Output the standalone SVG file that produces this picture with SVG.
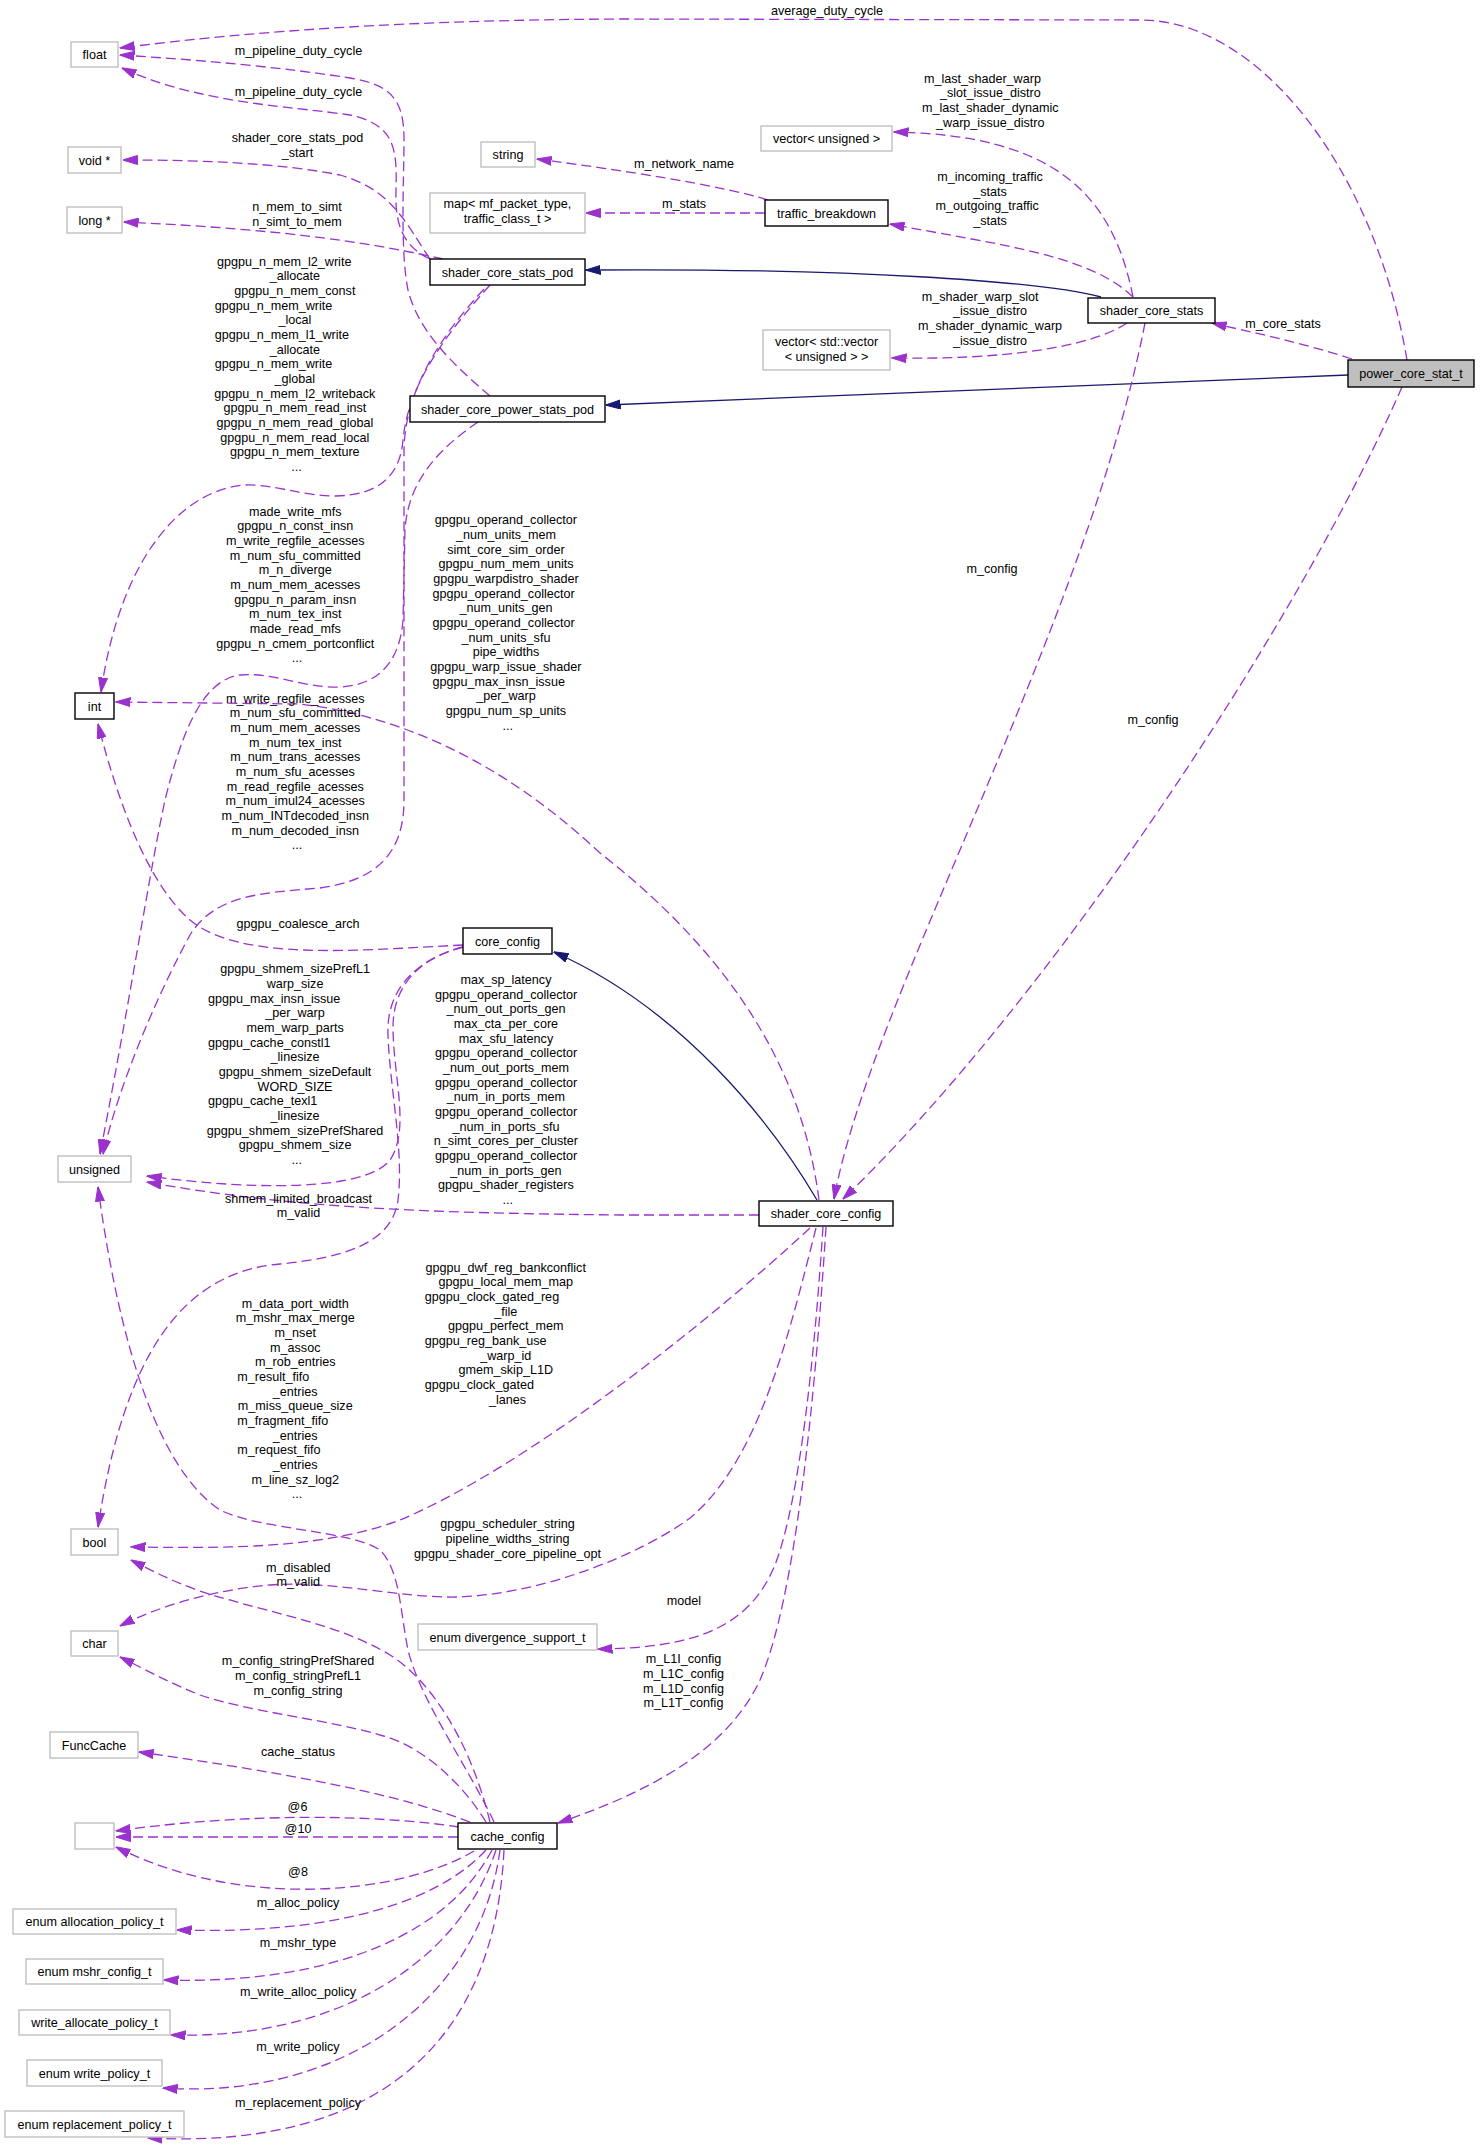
<svg xmlns="http://www.w3.org/2000/svg" width="1480" height="2153" viewBox="0 0 1480 2153">
<style>
text{font-family:"Liberation Sans",Arial,Helvetica,sans-serif;font-size:12.6px;fill:#000}
.nd rect{fill:#fff;stroke:#000;stroke-width:1.4}
.gy rect{fill:#fff;stroke:#bfbfbf;stroke-width:1.4}
.nd text,.gy text{text-anchor:middle}
.e{fill:none;stroke:#9a32cd;stroke-width:1.3;stroke-dasharray:10,5;marker-end:url(#ap)}
.i{fill:none;stroke:#191970;stroke-width:1.3;marker-end:url(#an)}
.c{text-anchor:middle}
.s{text-anchor:start}
</style>
<defs>
<marker id="ap" viewBox="0 0 15 10" refX="14.5" refY="5" markerWidth="15" markerHeight="10" markerUnits="userSpaceOnUse" orient="auto"><path d="M0,0.5 L15,5 L0,9.5 z" fill="#9a32cd" stroke="#9a32cd" stroke-width="1" stroke-dasharray="none"/></marker>
<marker id="an" viewBox="0 0 15 10" refX="14.5" refY="5" markerWidth="15" markerHeight="10" markerUnits="userSpaceOnUse" orient="auto"><path d="M0,0.5 L15,5 L0,9.5 z" fill="#191970" stroke="#191970" stroke-width="1"/></marker>
</defs>
<rect x="0" y="0" width="1480" height="2153" fill="#fff"/>

<g id="connectors">
<path class="i" d="M1101,297 C1040,281 850,268 586,270"/>
<path class="i" d="M1348,375 L606,405"/>
<path class="i" d="M817,1200 C770,1120 680,1008 554,952"/>

<path class="e" d="M1407,360 C1375,170 1260,20 1140,20 L620,19 C420,20 260,30 120,48"/>
<path class="e" d="M1352,359 C1300,342 1250,332 1212,323"/>
<path class="e" d="M1402,387 C1300,620 1050,1000 843,1199"/>
<path class="e" d="M1145,323 C1085,630 870,1000 834,1199"/>
<path class="e" d="M1133,297 C1112,190 1050,135 894,132"/>
<path class="e" d="M1133,297 C1090,255 1000,245 890,224"/>
<path class="e" d="M1127,323 C1090,348 1000,360 892,358"/>
<path class="e" d="M768,200 C720,185 620,170 537,159"/>
<path class="e" d="M765,213 L586,213"/>
<path class="e" d="M490,396 C450,362 418,330 408,290 C400,250 404,180 404,140 C404,100 392,85 350,78 C280,67 200,60 120,55"/>
<path class="e" d="M430,259 C400,245 395,220 396,190 C397,150 396,125 350,115 C290,106 200,104 122,68"/>
<path class="e" d="M430,259 C405,222 392,190 340,175 C280,163 200,160 123,160"/>
<path class="e" d="M443,259 C380,245 300,230 124,222"/>
<path class="e" d="M490,285 C445,335 408,385 403,440 C400,475 380,495 336,496 C300,496 275,484 245,485 C180,490 120,560 101,692"/>
<path class="e" d="M484,289 C440,337 405,390 404,450 L404,800 C404,850 380,880 320,888 C260,893 215,895 190,935 C160,990 120,1080 103,1154"/>
<path class="e" d="M478,422 C440,448 408,480 405,530 L403,620 C400,660 380,685 340,687 C300,688 275,672 240,675 C200,680 180,740 165,800 C150,870 130,1000 100,1154"/>
<path class="e" d="M819,1200 C805,1090 750,970 600,853 C520,778 420,718 300,704 L116,702"/>
<path class="e" d="M463,945 C360,950 240,962 190,920 C150,885 120,810 98,724"/>
<path class="e" d="M463,947 C420,958 392,985 393,1030 C394,1080 410,1130 390,1160 C365,1192 250,1190 147,1176"/>
<path class="e" d="M463,947 C415,960 386,990 388,1035 C390,1090 404,1150 398,1200 C392,1245 340,1258 280,1264 C185,1272 125,1350 98,1527"/>
<path class="e" d="M759,1215 L620,1215 C450,1213 300,1210 147,1182"/>
<path class="e" d="M494,1822 C470,1770 420,1700 408,1650 C400,1610 400,1570 380,1550 C350,1530 260,1530 220,1510 C160,1470 120,1350 98,1187"/>
<path class="e" d="M810,1228 C700,1330 520,1470 400,1520 C320,1550 220,1548 131,1547"/>
<path class="e" d="M816,1228 C790,1330 760,1460 690,1518 C640,1555 540,1595 456,1597 C400,1598 330,1580 270,1585 C220,1589 160,1605 120,1626"/>
<path class="e" d="M823,1227 C815,1350 800,1500 775,1565 C750,1625 700,1648 598,1649"/>
<path class="e" d="M826,1227 C815,1400 795,1600 760,1680 C725,1755 640,1795 558,1823"/>
<path class="e" d="M490,1822 C470,1740 430,1680 390,1655 C340,1625 280,1615 230,1600 C190,1590 160,1575 131,1560"/>
<path class="e" d="M486,1822 C460,1780 420,1745 380,1735 C330,1720 250,1712 200,1695 C170,1683 150,1672 120,1657"/>
<path class="e" d="M470,1822 C400,1795 300,1775 139,1752"/>
<path class="e" d="M459,1827 C380,1815 250,1812 116,1831"/>
<path class="e" d="M458,1837 L116,1837"/>
<path class="e" d="M474,1851 C400,1895 240,1910 116,1847"/>
<path class="e" d="M486,1850 C440,1900 340,1935 177,1930"/>
<path class="e" d="M492,1850 C450,1930 340,1985 164,1980"/>
<path class="e" d="M496,1850 C460,1960 340,2040 171,2035"/>
<path class="e" d="M500,1850 C480,2000 340,2100 163,2088"/>
<path class="e" d="M504,1850 C495,2040 380,2150 148,2138"/>
</g>

<g id="edge-labels">
<text class="c" x="827" y="15.3">average_duty_cycle</text>
<text class="c" x="298.5" y="55">m_pipeline_duty_cycle</text>
<text class="c" x="298.5" y="96">m_pipeline_duty_cycle</text>
<text class="c"><tspan x="297.5" y="142.3">shader_core_stats_pod</tspan><tspan x="297.5" y="157.3">_start</tspan></text>
<text class="c"><tspan x="297" y="211">n_mem_to_simt</tspan><tspan x="297" y="225.5">n_simt_to_mem</tspan></text>
<text class="c" x="684" y="168.3">m_network_name</text>
<text class="c" x="684" y="208.3">m_stats</text>
<text><tspan class="s" x="924" y="82.7">m_last_shader_warp</tspan><tspan class="c" x="990.3" y="97.3">_slot_issue_distro</tspan><tspan class="c" x="990.3" y="112">m_last_shader_dynamic</tspan><tspan class="c" x="990.3" y="126.7">_warp_issue_distro</tspan></text>
<text><tspan class="c" x="990" y="181">m_incoming_traffic</tspan><tspan class="c" x="990" y="195.7">_stats</tspan><tspan class="s" x="935.4" y="210.3">m_outgoing_traffic</tspan><tspan class="c" x="990" y="225">_stats</tspan></text>
<text><tspan class="s" x="921.7" y="300.7">m_shader_warp_slot</tspan><tspan class="c" x="990" y="315.3">_issue_distro</tspan><tspan class="c" x="990" y="330">m_shader_dynamic_warp</tspan><tspan class="c" x="990" y="344.7">_issue_distro</tspan></text>
<text class="c" x="1283" y="328.3">m_core_stats</text>
<text class="c" x="992" y="573.4">m_config</text>
<text class="c" x="1153" y="724.3">m_config</text>

<text>
<tspan class="s" x="217" y="265.5">gpgpu_n_mem_l2_write</tspan>
<tspan class="c" x="296.6" y="280.2">_allocate</tspan>
<tspan class="c" x="296.6" y="294.8">gpgpu_n_mem_const</tspan>
<tspan class="s" x="214.7" y="309.5">gpgpu_n_mem_write</tspan>
<tspan class="c" x="296.6" y="324.2">_local</tspan>
<tspan class="s" x="214.7" y="338.9">gpgpu_n_mem_l1_write</tspan>
<tspan class="c" x="296.6" y="353.5">_allocate</tspan>
<tspan class="s" x="214.7" y="368.2">gpgpu_n_mem_write</tspan>
<tspan class="c" x="296.6" y="382.9">_global</tspan>
<tspan class="c" x="296.6" y="397.5">gpgpu_n_mem_l2_writeback</tspan>
<tspan class="c" x="296.6" y="412.2">gpgpu_n_mem_read_inst</tspan>
<tspan class="c" x="296.6" y="426.9">gpgpu_n_mem_read_global</tspan>
<tspan class="c" x="296.6" y="441.5">gpgpu_n_mem_read_local</tspan>
<tspan class="c" x="296.6" y="456.2">gpgpu_n_mem_texture</tspan>
<tspan class="c" x="296.6" y="470.9">...</tspan>
</text>

<text class="c">
<tspan x="297" y="515.7">made_write_mfs</tspan>
<tspan x="297" y="530.4">gpgpu_n_const_insn</tspan>
<tspan x="297" y="545">m_write_regfile_acesses</tspan>
<tspan x="297" y="559.7">m_num_sfu_committed</tspan>
<tspan x="297" y="574.4">m_n_diverge</tspan>
<tspan x="297" y="589.1">m_num_mem_acesses</tspan>
<tspan x="297" y="603.7">gpgpu_n_param_insn</tspan>
<tspan x="297" y="618.4">m_num_tex_inst</tspan>
<tspan x="297" y="633.1">made_read_mfs</tspan>
<tspan x="297" y="647.7">gpgpu_n_cmem_portconflict</tspan>
<tspan x="297" y="662.4">...</tspan>
</text>

<text class="c">
<tspan x="297" y="702.7">m_write_regfile_acesses</tspan>
<tspan x="297" y="717.4">m_num_sfu_committed</tspan>
<tspan x="297" y="732">m_num_mem_acesses</tspan>
<tspan x="297" y="746.7">m_num_tex_inst</tspan>
<tspan x="297" y="761.4">m_num_trans_acesses</tspan>
<tspan x="297" y="776.1">m_num_sfu_acesses</tspan>
<tspan x="297" y="790.7">m_read_regfile_acesses</tspan>
<tspan x="297" y="805.4">m_num_imul24_acesses</tspan>
<tspan x="297" y="820.1">m_num_INTdecoded_insn</tspan>
<tspan x="297" y="834.7">m_num_decoded_insn</tspan>
<tspan x="297" y="849.4">...</tspan>
</text>

<text>
<tspan class="c" x="507.7" y="524.3">gpgpu_operand_collector</tspan>
<tspan class="c" x="507.7" y="539">_num_units_mem</tspan>
<tspan class="c" x="507.7" y="553.6">simt_core_sim_order</tspan>
<tspan class="c" x="507.7" y="568.3">gpgpu_num_mem_units</tspan>
<tspan class="c" x="507.7" y="583">gpgpu_warpdistro_shader</tspan>
<tspan class="s" x="432.6" y="597.7">gpgpu_operand_collector</tspan>
<tspan class="c" x="507.7" y="612.3">_num_units_gen</tspan>
<tspan class="s" x="432.6" y="627">gpgpu_operand_collector</tspan>
<tspan class="c" x="507.7" y="641.7">_num_units_sfu</tspan>
<tspan class="c" x="507.7" y="656.3">pipe_widths</tspan>
<tspan class="c" x="507.7" y="671">gpgpu_warp_issue_shader</tspan>
<tspan class="s" x="432.6" y="685.7">gpgpu_max_insn_issue</tspan>
<tspan class="c" x="507.7" y="700.3">_per_warp</tspan>
<tspan class="c" x="507.7" y="715">gpgpu_num_sp_units</tspan>
<tspan class="c" x="507.7" y="729.7">...</tspan>
</text>

<text class="c" x="298" y="927.7">gpgpu_coalesce_arch</text>

<text>
<tspan class="c" x="296.8" y="973.3">gpgpu_shmem_sizePrefL1</tspan>
<tspan class="c" x="296.8" y="988">warp_size</tspan>
<tspan class="s" x="208" y="1002.6">gpgpu_max_insn_issue</tspan>
<tspan class="c" x="296.8" y="1017.3">_per_warp</tspan>
<tspan class="c" x="296.8" y="1032">mem_warp_parts</tspan>
<tspan class="s" x="208" y="1046.7">gpgpu_cache_constl1</tspan>
<tspan class="c" x="296.8" y="1061.3">_linesize</tspan>
<tspan class="c" x="296.8" y="1076">gpgpu_shmem_sizeDefault</tspan>
<tspan class="c" x="296.8" y="1090.7">WORD_SIZE</tspan>
<tspan class="s" x="208" y="1105.3">gpgpu_cache_texl1</tspan>
<tspan class="c" x="296.8" y="1120">_linesize</tspan>
<tspan class="c" x="296.8" y="1134.7">gpgpu_shmem_sizePrefShared</tspan>
<tspan class="c" x="296.8" y="1149.3">gpgpu_shmem_size</tspan>
<tspan class="c" x="296.8" y="1164">...</tspan>
</text>

<text class="c"><tspan x="298.5" y="1202.7">shmem_limited_broadcast</tspan><tspan x="298.5" y="1217.3">m_valid</tspan></text>

<text>
<tspan class="c" x="507.7" y="984">max_sp_latency</tspan>
<tspan class="s" x="435" y="998.7">gpgpu_operand_collector</tspan>
<tspan class="c" x="507.7" y="1013.3">_num_out_ports_gen</tspan>
<tspan class="c" x="507.7" y="1028">max_cta_per_core</tspan>
<tspan class="c" x="507.7" y="1042.7">max_sfu_latency</tspan>
<tspan class="s" x="435" y="1057.4">gpgpu_operand_collector</tspan>
<tspan class="c" x="507.7" y="1072">_num_out_ports_mem</tspan>
<tspan class="s" x="435" y="1086.7">gpgpu_operand_collector</tspan>
<tspan class="c" x="507.7" y="1101.4">_num_in_ports_mem</tspan>
<tspan class="s" x="435" y="1116">gpgpu_operand_collector</tspan>
<tspan class="c" x="507.7" y="1130.7">_num_in_ports_sfu</tspan>
<tspan class="c" x="507.7" y="1145.4">n_simt_cores_per_cluster</tspan>
<tspan class="s" x="435" y="1160">gpgpu_operand_collector</tspan>
<tspan class="c" x="507.7" y="1174.7">_num_in_ports_gen</tspan>
<tspan class="c" x="507.7" y="1189.4">gpgpu_shader_registers</tspan>
<tspan class="c" x="507.7" y="1204.1">...</tspan>
</text>

<text>
<tspan class="c" x="507.5" y="1271.7">gpgpu_dwf_reg_bankconflict</tspan>
<tspan class="c" x="507.5" y="1286.4">gpgpu_local_mem_map</tspan>
<tspan class="s" x="424.7" y="1301">gpgpu_clock_gated_reg</tspan>
<tspan class="c" x="507.5" y="1315.7">_file</tspan>
<tspan class="c" x="507.5" y="1330.4">gpgpu_perfect_mem</tspan>
<tspan class="s" x="424.7" y="1345.1">gpgpu_reg_bank_use</tspan>
<tspan class="c" x="507.5" y="1359.7">_warp_id</tspan>
<tspan class="c" x="507.5" y="1374.4">gmem_skip_L1D</tspan>
<tspan class="s" x="424.7" y="1389.1">gpgpu_clock_gated</tspan>
<tspan class="c" x="507.5" y="1403.7">_lanes</tspan>
</text>

<text>
<tspan class="c" x="297" y="1307.7">m_data_port_width</tspan>
<tspan class="c" x="297" y="1322.4">m_mshr_max_merge</tspan>
<tspan class="c" x="297" y="1337">m_nset</tspan>
<tspan class="c" x="297" y="1351.7">m_assoc</tspan>
<tspan class="c" x="297" y="1366.4">m_rob_entries</tspan>
<tspan class="s" x="237.2" y="1381.1">m_result_fifo</tspan>
<tspan class="c" x="297" y="1395.7">_entries</tspan>
<tspan class="c" x="297" y="1410.4">m_miss_queue_size</tspan>
<tspan class="s" x="237.2" y="1425.1">m_fragment_fifo</tspan>
<tspan class="c" x="297" y="1439.7">_entries</tspan>
<tspan class="s" x="237.2" y="1454.4">m_request_fifo</tspan>
<tspan class="c" x="297" y="1469.1">_entries</tspan>
<tspan class="c" x="297" y="1483.7">m_line_sz_log2</tspan>
<tspan class="c" x="297" y="1498.4">...</tspan>
</text>

<text class="c"><tspan x="507.5" y="1528.3">gpgpu_scheduler_string</tspan><tspan x="507.5" y="1543">pipeline_widths_string</tspan><tspan x="507.5" y="1557.6">gpgpu_shader_core_pipeline_opt</tspan></text>
<text class="c"><tspan x="298.3" y="1571.7">m_disabled</tspan><tspan x="298.3" y="1586.4">m_valid</tspan></text>
<text class="c" x="684" y="1605">model</text>
<text class="c"><tspan x="683.5" y="1663.3">m_L1I_config</tspan><tspan x="683.5" y="1678">m_L1C_config</tspan><tspan x="683.5" y="1692.6">m_L1D_config</tspan><tspan x="683.5" y="1707.3">m_L1T_config</tspan></text>
<text class="c"><tspan x="298" y="1665.3">m_config_stringPrefShared</tspan><tspan x="298" y="1680">m_config_stringPrefL1</tspan><tspan x="298" y="1694.6">m_config_string</tspan></text>
<text class="c" x="298" y="1756">cache_status</text>
<text class="c" x="297.5" y="1811">@6</text>
<text class="c" x="298" y="1832.8">@10</text>
<text class="c" x="298" y="1875.8">@8</text>
<text class="c" x="298" y="1906.9">m_alloc_policy</text>
<text class="c" x="298" y="1946.7">m_mshr_type</text>
<text class="c" x="298" y="1995.8">m_write_alloc_policy</text>
<text class="c" x="298" y="2050.8">m_write_policy</text>
<text class="c" x="298" y="2106.9">m_replacement_policy</text>
</g>

<g id="node-float" class="gy"><rect x="71" y="42" width="47" height="25"/><text x="94.5" y="59">float</text></g>
<g id="node-voidptr" class="gy"><rect x="68" y="147" width="53" height="26"/><text x="94.5" y="164.5">void *</text></g>
<g id="node-longptr" class="gy"><rect x="67" y="207" width="55" height="26"/><text x="94.5" y="224.5">long *</text></g>
<g id="node-string" class="gy"><rect x="481" y="142" width="54" height="25"/><text x="508" y="159">string</text></g>
<g id="node-map" class="gy"><rect x="430" y="193" width="155" height="40"/><text x="507.5" y="208">map&lt; mf_packet_type,</text><text x="507.5" y="223">traffic_class_t &gt;</text></g>
<g id="node-shader_core_stats_pod" class="nd"><rect x="430" y="259" width="155" height="26"/><text x="507.5" y="276.5">shader_core_stats_pod</text></g>
<g id="node-shader_core_power_stats_pod" class="nd"><rect x="410" y="396" width="195" height="26"/><text x="507.5" y="413.5">shader_core_power_stats_pod</text></g>
<g id="node-vector_unsigned" class="gy"><rect x="761" y="126" width="131" height="25"/><text x="826.5" y="143">vector&lt; unsigned &gt;</text></g>
<g id="node-traffic_breakdown" class="nd"><rect x="765" y="200" width="123" height="26"/><text x="826.5" y="217.5">traffic_breakdown</text></g>
<g id="node-shader_core_stats" class="nd"><rect x="1088" y="298" width="127" height="25"/><text x="1151.5" y="315">shader_core_stats</text></g>
<g id="node-vector_vector" class="gy"><rect x="763" y="330" width="127" height="40"/><text x="826.5" y="346">vector&lt; std::vector</text><text x="826.5" y="361">&lt; unsigned &gt; &gt;</text></g>
<g id="node-power_core_stat_t" class="nd"><rect x="1348" y="360" width="126" height="27" style="fill:#bfbfbf"/><text x="1411" y="378">power_core_stat_t</text></g>
<g id="node-int" class="nd"><rect x="75" y="693" width="39" height="26"/><text x="94.5" y="710.5">int</text></g>
<g id="node-core_config" class="nd"><rect x="463" y="928" width="89" height="26"/><text x="507.5" y="945.5">core_config</text></g>
<g id="node-unsigned" class="gy"><rect x="58" y="1156" width="73" height="26"/><text x="94.5" y="1173.5">unsigned</text></g>
<g id="node-shader_core_config" class="nd"><rect x="759" y="1201" width="134" height="25"/><text x="826" y="1218">shader_core_config</text></g>
<g id="node-bool" class="gy"><rect x="71" y="1529" width="47" height="26"/><text x="94.5" y="1546.5">bool</text></g>
<g id="node-enum_divergence_support_t" class="gy"><rect x="418" y="1624" width="179" height="26"/><text x="507.5" y="1641.5">enum divergence_support_t</text></g>
<g id="node-char" class="gy"><rect x="71" y="1631" width="47" height="25"/><text x="94.5" y="1648">char</text></g>
<g id="node-FuncCache" class="gy"><rect x="50" y="1732" width="88" height="26"/><text x="94" y="1749.5">FuncCache</text></g>
<g id="node-anon" class="gy"><rect x="75" y="1823" width="39" height="26"/></g>
<g id="node-cache_config" class="nd"><rect x="458" y="1823" width="99" height="26"/><text x="507.5" y="1840.5">cache_config</text></g>
<g id="node-enum_allocation_policy_t" class="gy"><rect x="13" y="1909" width="163" height="25"/><text x="94.5" y="1926">enum allocation_policy_t</text></g>
<g id="node-enum_mshr_config_t" class="gy"><rect x="26" y="1959" width="137" height="25"/><text x="94.5" y="1976">enum mshr_config_t</text></g>
<g id="node-write_allocate_policy_t" class="gy"><rect x="19" y="2010" width="151" height="25"/><text x="94.5" y="2027">write_allocate_policy_t</text></g>
<g id="node-enum_write_policy_t" class="gy"><rect x="27" y="2060" width="135" height="26"/><text x="94.5" y="2077.5">enum write_policy_t</text></g>
<g id="node-enum_replacement_policy_t" class="gy"><rect x="5" y="2111" width="179" height="26"/><text x="94.5" y="2128.5">enum replacement_policy_t</text></g>
</svg>
